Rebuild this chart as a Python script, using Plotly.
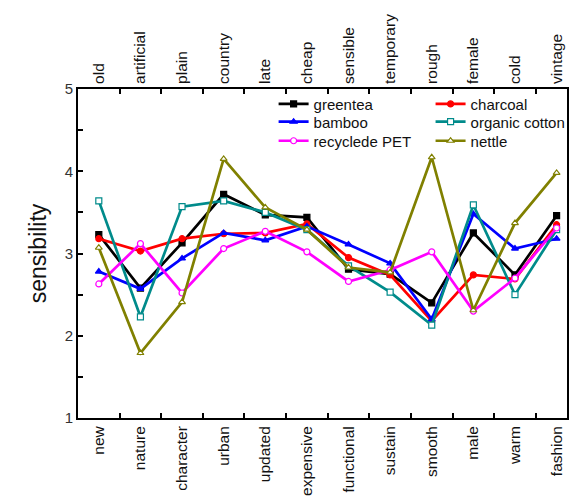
import plotly.graph_objects as go

bottom_labels = ["new", "nature", "character", "urban", "updated", "expensive",
                 "functional", "sustain", "smooth", "male", "warm", "fashion"]
top_labels = ["old", "artificial", "plain", "country", "late", "cheap",
              "sensible", "temporary", "rough", "female", "cold", "vintage"]

greentea = [3.23, 2.58, 3.13, 3.72, 3.47, 3.44, 2.81, 2.75, 2.40, 3.25, 2.74, 3.46]
charcoal = [3.18, 3.03, 3.18, 3.24, 3.25, 3.36, 2.95, 2.74, 2.18, 2.74, 2.69, 3.35]
bamboo = [2.78, 2.57, 2.94, 3.25, 3.16, 3.33, 3.11, 2.88, 2.20, 3.48, 3.06, 3.18]
organic_cotton = [3.64, 2.23, 3.57, 3.64, 3.50, 3.29, 2.85, 2.53, 2.13, 3.59, 2.50, 3.29]
recyclede_pet = [2.63, 3.12, 2.52, 3.06, 3.27, 3.02, 2.66, 2.80, 3.02, 2.30, 2.70, 3.31]
nettle = [3.07, 1.79, 2.41, 4.15, 3.56, 3.29, 2.83, 2.77, 4.17, 2.31, 3.37, 3.98]

# name, values, colour, symbol, fill, legend column, legend row
series = [
    ("greentea", greentea, "#000000", "square", "#000000", 0, 0),
    ("charcoal", charcoal, "#FF0000", "circle", "#FF0000", 1, 0),
    ("bamboo", bamboo, "#0000FF", "triangle-up", "#0000FF", 0, 1),
    ("organic cotton", organic_cotton, "#008B8B", "square", "#FFFFFF", 1, 1),
    ("recyclede PET", recyclede_pet, "#FF00FF", "circle", "#FFFFFF", 0, 2),
    ("nettle", nettle, "#808000", "triangle-up", "#FFFFFF", 1, 2),
]

col_x = [0.40, 0.721]
row_y = [0.954, 0.900, 0.842]

xs = list(range(len(bottom_labels)))
between = [i + 0.5 for i in range(len(bottom_labels) - 1)]

fig = go.Figure()
legends = {}
for k, (name, vals, color, sym, fill, col, row) in enumerate(series):
    leg = "legend" if k == 0 else f"legend{k + 1}"
    fig.add_trace(go.Scatter(
        x=xs, y=vals, name=name, mode="lines+markers",
        line=dict(color=color, width=2.7),
        marker=dict(symbol=sym, size=6, color=fill, line=dict(color=color, width=1.2)),
        legend=leg,
    ))
    legends[leg] = dict(x=col_x[col], y=row_y[row], xanchor="left", yanchor="middle",
                        bgcolor="rgba(0,0,0,0)", font=dict(size=15), itemwidth=30)

# invisible trace to activate top axis
fig.add_trace(go.Scatter(x=xs, y=[None] * len(xs), xaxis="x2", showlegend=False,
                         hoverinfo="skip", mode="lines"))

font = "Liberation Sans, Arial, sans-serif"
xrange = [-0.5, 11.25]
tick_font = dict(size=15.5, color="#111111")

fig.update_layout(
    width=572, height=497,
    margin=dict(l=78, r=5, t=89, b=79, autoexpand=False),
    paper_bgcolor="white", plot_bgcolor="white",
    font=dict(family=font, size=15, color="#111111"),
    xaxis=dict(
        range=xrange, tickmode="array", tickvals=xs, ticktext=bottom_labels,
        tickangle=-90, ticks="", showgrid=False, zeroline=False, automargin=False,
        showline=True, linecolor="black", linewidth=2, mirror=False,
        tickfont=tick_font,
        minor=dict(tickmode="array", tickvals=between, ticks="inside",
                   ticklen=5, tickwidth=2, tickcolor="black", showgrid=False),
    ),
    xaxis2=dict(
        range=xrange, overlaying="x", side="top", anchor="y", automargin=False,
        tickmode="array", tickvals=xs, ticktext=top_labels,
        tickangle=-90, ticks="", showgrid=False, zeroline=False,
        showline=True, linecolor="black", linewidth=2,
        tickfont=tick_font,
        minor=dict(tickmode="array", tickvals=between, ticks="inside",
                   ticklen=5, tickwidth=2, tickcolor="black", showgrid=False),
    ),
    yaxis=dict(
        range=[1, 5], tickmode="array", tickvals=[1, 2, 3, 4, 5], automargin=False,
        ticks="inside", ticklen=5, tickwidth=2, tickcolor="black",
        showgrid=False, zeroline=False, showline=True, linecolor="black",
        linewidth=2, mirror=True, tickfont=dict(size=15, color="#333333"),
        minor=dict(tickmode="array", tickvals=[1.5, 2.5, 3.5, 4.5], ticks="inside",
                   ticklen=5, tickwidth=2, tickcolor="black", showgrid=False),
        title=dict(text="sensibility", font=dict(size=23, color="#111111"), standoff=12),
    ),
    showlegend=True,
    **legends,
)

fig.write_html("out.html", config={"displayModeBar": False},
               post_script="document.body.style.margin='0';")
